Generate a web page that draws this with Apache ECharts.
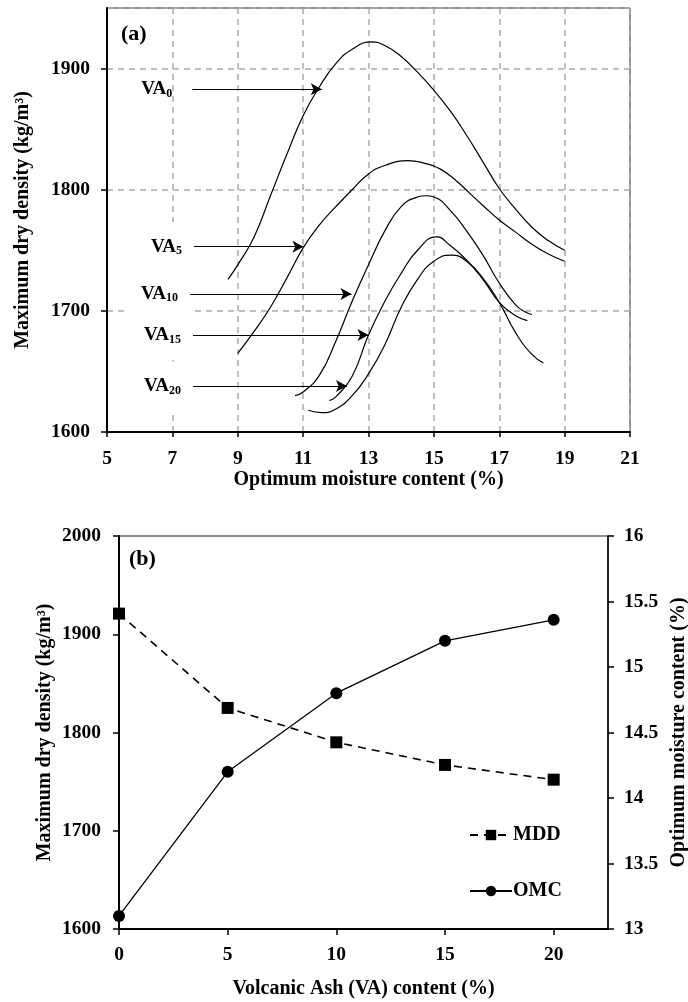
<!DOCTYPE html>
<html><head><meta charset="utf-8">
<script src="https://cdn.jsdelivr.net/npm/echarts@6/dist/echarts.min.js"></script>
<style>html,body{margin:0;padding:0;background:#fff}#c{width:688px;height:1002px}</style>
</head><body><div id="c"></div>
<script>
// ---- Panel (a): compaction curves [moisture %, dry density kg/m3]
const VA0 = [[8.7,1726],[9.0,1738],[9.5,1761],[10.0,1795],[10.5,1829],[11.0,1861],[11.5,1885],[12.0,1904],[12.5,1916],[13.1,1922],[13.5,1919],[14.0,1910],[14.5,1897],[15.0,1882],[15.5,1865],[16.0,1845],[16.5,1823],[17.0,1801],[17.5,1784],[18.0,1769],[18.5,1758],[19.0,1750]];
const VA5 = [[9.0,1665],[9.5,1683],[10.0,1703],[10.5,1727],[11.0,1752],[11.5,1771],[12.0,1786],[12.5,1800],[13.0,1813],[13.5,1820],[14.2,1824],[14.7,1822],[15.2,1817],[15.7,1807],[16.1,1797],[16.5,1787],[17.0,1775],[17.5,1765],[18.0,1755],[18.5,1747],[19.0,1741]];
const VA10 = [[10.75,1630],[11.0,1633],[11.5,1647],[12.0,1675],[12.5,1708],[13.0,1738],[13.5,1766],[14.0,1786],[14.5,1794],[14.75,1795],[15.0,1794],[15.5,1783],[16.0,1766],[16.5,1746],[17.0,1723],[17.5,1705],[17.8,1699],[18.0,1697]];
const VA15 = [[11.8,1626],[12.0,1629],[12.5,1646],[13.0,1680],[13.5,1708],[14.0,1731],[14.5,1750],[15.08,1761],[15.5,1754],[16.0,1742],[16.5,1726],[17.0,1707],[17.5,1696],[17.86,1692]];
const VA20 = [[11.16,1618],[11.57,1616],[12.0,1619],[12.5,1630],[13.0,1648],[13.5,1672],[14.0,1703],[14.5,1726],[15.0,1741],[15.54,1746],[16.0,1741],[16.5,1727],[17.0,1707],[17.5,1682],[18.0,1664],[18.35,1657]];
const curveNames = ['VA0','VA5','VA10','VA15','VA20'];
const curveSubs = ['0','5','10','15','20'];
// arrow annotations: y value, start x, end x
const arrowY = [1883, 1753, 1714, 1680, 1638];
const arrowStartX = [7.61, 7.66, 7.54, 7.63, 7.63];
const arrowEndX = [11.57, 11.01, 12.48, 13.0, 12.34];
// ---- Panel (b)
const vaContent = [0, 5, 10, 15, 20];
const mdd = [1921, 1825, 1790, 1767, 1752];
const omc = [13.1, 14.2, 14.8, 15.2, 15.36];

const F = 'Liberation Serif';
const curves = [VA0, VA5, VA10, VA15, VA20];

function arrowLine(i) {
  return [
    { coord: [arrowStartX[i], arrowY[i]],
      label: {
        show: true, position: 'start', distance: i === 0 ? 20 : 0,
        formatter: '{b|VA}{s|' + curveSubs[i] + '}',
        backgroundColor: i === 0 ? 'transparent' : '#fff',
        padding: i === 0 ? 0 : [14, 12, 14, 12],
        rich: {
          b: { fontFamily: F, fontWeight: 'bold', fontSize: 19, color: '#000' },
          s: { fontFamily: F, fontWeight: 'bold', fontSize: 12, color: '#000', padding: [9, 0, 0, 0] }
        }
      } },
    { coord: [arrowEndX[i], arrowY[i]] }
  ];
}

const series = curves.map((d, i) => ({
  name: curveNames[i], type: 'line', xAxisIndex: 0, yAxisIndex: 0,
  data: d, smooth: 0.5, showSymbol: false, symbol: 'none',
  lineStyle: { color: '#000', width: 1.2 },
  markLine: {
    silent: true, symbol: ['none', 'arrow'], symbolSize: [9, 11],
    lineStyle: { color: '#000', width: 1, type: 'solid' },
    data: [arrowLine(i)]
  }
}));

series.push({
  name: 'MDD', type: 'line', xAxisIndex: 1, yAxisIndex: 1,
  data: vaContent.map((v, i) => [v, mdd[i]]),
  symbol: 'rect', symbolSize: 12,
  itemStyle: { color: '#000' },
  lineStyle: { color: '#000', width: 1.6, type: [8, 6] }
});
series.push({
  name: 'OMC', type: 'line', xAxisIndex: 1, yAxisIndex: 2,
  data: vaContent.map((v, i) => [v, omc[i]]),
  symbol: 'circle', symbolSize: 12,
  itemStyle: { color: '#000' },
  lineStyle: { color: '#000', width: 1.3 }
});

const plain = v => String(v);
const tickFont = { fontFamily: F, fontWeight: 'bold', fontSize: 19.5, color: '#000', formatter: plain };
const nameFont = { fontFamily: F, fontWeight: 'bold', fontSize: 20, color: '#000' };

const option = {
  animation: false,
  backgroundColor: '#fff',
  title: [
    { text: '(a)', left: 116, top: 18, textStyle: { fontFamily: F, fontWeight: 'bold', fontSize: 22, color: '#000' } },
    { text: '(b)', left: 124, top: 543, textStyle: { fontFamily: F, fontWeight: 'bold', fontSize: 22, color: '#000' } }
  ],
  legend: {
    data: ['MDD', 'OMC'], orient: 'vertical', left: 464, top: 820, itemGap: 36,
    itemWidth: 42, itemHeight: 13,
    textStyle: { fontFamily: F, fontWeight: 'bold', fontSize: 20, color: '#000', padding: [0,0,0,-4] }
  },
  grid: [
    { left: 107, right: 58, top: 8, bottom: 570, show: true, borderColor: '#222', borderWidth: 1, outerBoundsMode: 'none', containLabel: false },
    { left: 119, right: 80, top: 536, bottom: 73, show: true, borderColor: '#222', borderWidth: 1, outerBoundsMode: 'none', containLabel: false }
  ],
  xAxis: [
    { type: 'value', gridIndex: 0, min: 5, max: 21, interval: 2,
      name: 'Optimum moisture content (%)', nameLocation: 'middle', nameGap: 34, nameTextStyle: nameFont,
      axisLine: { lineStyle: { color: '#000', width: 2 } },
      axisTick: { show: true, length: 5, lineStyle: { color: '#000', width: 1.5 } },
      axisLabel: Object.assign({ margin: 17 }, tickFont),
      splitLine: { show: true, lineStyle: { color: '#aaa', width: 1.5, type: [6, 5] } } },
    { type: 'value', gridIndex: 1, min: 0, max: 22.5, interval: 5,
      name: 'Volcanic Ash (VA) content (%)', nameLocation: 'middle', nameGap: 50, nameTextStyle: nameFont,
      axisLine: { lineStyle: { color: '#000', width: 2 } },
      axisTick: { show: true, length: 6, lineStyle: { color: '#000', width: 1.5 } },
      axisLabel: Object.assign({ margin: 16, showMaxLabel: false }, tickFont),
      splitLine: { show: false } }
  ],
  yAxis: [
    { type: 'value', gridIndex: 0, min: 1600, max: 1950, interval: 100,
      name: 'Maximum dry density (kg/m³)', nameLocation: 'middle', nameGap: 74, nameRotate: 90, nameTextStyle: nameFont,
      axisLine: { show: true, lineStyle: { color: '#000', width: 2 } },
      axisTick: { show: true, length: 6, lineStyle: { color: '#000', width: 1.5 } },
      axisLabel: Object.assign({ margin: 17, showMaxLabel: false }, tickFont),
      splitLine: { show: true, lineStyle: { color: '#aaa', width: 1.5, type: [6, 5] } } },
    { type: 'value', gridIndex: 1, min: 1600, max: 2000, interval: 100,
      name: 'Maximum dry density (kg/m³)', nameLocation: 'middle', nameGap: 64, nameMoveOverlap: false, nameRotate: 90, nameTextStyle: nameFont,
      axisLine: { show: true, lineStyle: { color: '#000', width: 2 } },
      axisTick: { show: true, length: 6, lineStyle: { color: '#000', width: 1.5 } },
      axisLabel: Object.assign({ margin: 18 }, tickFont),
      splitLine: { show: false } },
    { type: 'value', gridIndex: 1, position: 'right', min: 13, max: 16, interval: 0.5,
      name: 'Optimum moisture content (%)', nameLocation: 'middle', nameGap: 61, nameMoveOverlap: false, nameRotate: 90, nameTextStyle: nameFont,
      axisLine: { show: true, lineStyle: { color: '#000', width: 1.5 } },
      axisTick: { show: true, length: 6, lineStyle: { color: '#000', width: 1.5 } },
      axisLabel: Object.assign({ margin: 16 }, tickFont),
      splitLine: { show: false } }
  ],
  series: series
};
const chart = echarts.init(document.getElementById('c'), null, { renderer: 'canvas' });
chart.setOption(option);
</script></body></html>
